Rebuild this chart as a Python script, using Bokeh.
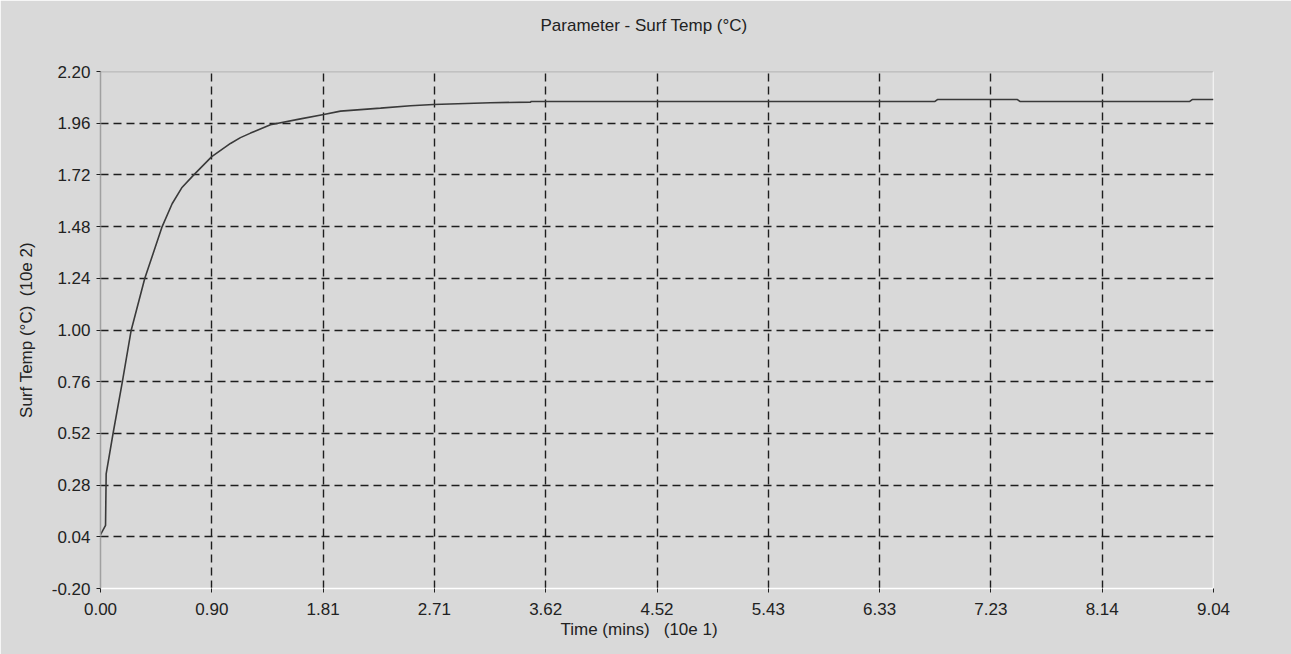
from bokeh.plotting import figure
from bokeh.models import Range1d, FixedTicker, NumeralTickFormatter, Span, Title
from bokeh.embed import file_html
from bokeh.resources import INLINE

# ---- data ----
time_vals = [0.000, 0.041, 0.046, 0.103, 0.176, 0.249, 0.360, 0.501, 0.582, 0.660, 0.758,
             0.904, 1.056, 1.137, 1.219, 1.381, 1.625, 1.814, 1.950, 2.275, 2.519,
             2.705, 3.168, 3.494, 3.500, 6.780, 6.800, 7.450, 7.470, 8.850, 8.870, 9.043]
temp_vals = [0.050, 0.093, 0.332, 0.523, 0.755, 0.998, 1.240, 1.480, 1.586, 1.660, 1.720,
             1.805, 1.866, 1.893, 1.914, 1.953, 1.980, 2.000, 2.016, 2.030, 2.041,
             2.047, 2.055, 2.058, 2.061, 2.061, 2.070, 2.070, 2.061, 2.061, 2.070, 2.070]

x_ticks = [0.0, 0.9043, 1.8086, 2.7129, 3.6172, 4.5215, 5.4258, 6.3301, 7.2344, 8.1387, 9.043]
x_tick_labels = ["0.00", "0.90", "1.81", "2.71", "3.62", "4.52", "5.43", "6.33", "7.23", "8.14", "9.04"]
y_ticks = [-0.20, 0.04, 0.28, 0.52, 0.76, 1.00, 1.24, 1.48, 1.72, 1.96, 2.20]
y_tick_labels = ["-0.20", "0.04", "0.28", "0.52", "0.76", "1.00", "1.24", "1.48", "1.72", "1.96", "2.20"]

title_text = "Parameter - Surf Temp (°C)"
x_label_text = "Time (mins)\u00a0\u00a0 (10e 1)"
y_label_text = "Surf Temp (°C)\u00a0 (10e 2)"

BG = "#d9d9d9"
FONT = "Liberation Sans"
FS = "17px"
TXT = "#222222"

p = figure(frame_width=1113, frame_height=517,
           min_border_left=100, min_border_right=78, min_border_top=71, min_border_bottom=66,
           x_range=Range1d(x_ticks[0], x_ticks[-1]), y_range=Range1d(y_ticks[0], y_ticks[-1]),
           output_backend="svg", toolbar_location=None, tools="")

p.background_fill_color = BG
p.border_fill_color = BG
p.outline_line_color = None

# spacer between frame and title (pushes the title upwards)
p.add_layout(Title(text=" ", standoff=11, text_font=FONT, text_font_size=FS), "above")

# title (outermost)
p.title.text = title_text
p.title.align = "left"
p.title.offset = 440
p.title.standoff = 10
p.title.text_font = FONT
p.title.text_font_size = FS
p.title.text_font_style = "normal"
p.title.text_color = TXT

# axis titles
p.add_layout(Title(text=x_label_text, align="left", offset=460, standoff=0,
                   text_font=FONT, text_font_size=FS, text_font_style="normal",
                   text_color=TXT), "below")
p.add_layout(Title(text=y_label_text, align="center", standoff=26,
                   text_font=FONT, text_font_size=FS, text_font_style="normal",
                   text_color=TXT), "left")

# axes
for ax, ticks, labels in ((p.xaxis[0], x_ticks, x_tick_labels), (p.yaxis[0], y_ticks, y_tick_labels)):
    ax.ticker = FixedTicker(ticks=ticks)
    ax.formatter = NumeralTickFormatter(format="0.00")
    ax.major_label_overrides = {t: l for t, l in zip(ticks, labels)}
    ax.major_label_text_font = FONT
    ax.major_label_text_font_size = FS
    ax.major_label_text_color = TXT
    ax.major_tick_in = 0
    ax.major_tick_out = 4
    ax.major_tick_line_color = "#222222"
    ax.minor_tick_line_color = None

p.xaxis.axis_line_color = "white"
p.xaxis.axis_line_width = 1.5
p.yaxis.axis_line_color = "#a0a0a0"
p.yaxis.axis_line_width = 1.5
p.xaxis.major_label_standoff = 10
p.yaxis.major_label_standoff = 6

# grid
p.xgrid.ticker = FixedTicker(ticks=x_ticks[1:])
p.ygrid.ticker = FixedTicker(ticks=y_ticks[1:])
for g in (p.xgrid[0], p.ygrid[0]):
    g.grid_line_color = "#1e1e1e"
    g.grid_line_dash = "8 5"
    g.grid_line_width = 1.4

# frame edges
p.add_layout(Span(location=y_ticks[-1], dimension="width", line_color="#a0a0a0", line_width=1.5, level="image"))
p.add_layout(Span(location=x_ticks[-1], dimension="height", line_color="white", line_width=1.5, level="image"))

# curve
p.line(time_vals, temp_vals, line_color="#3a3a3a", line_width=1.6)

open("out.html", "w").write(file_html(p, INLINE))
